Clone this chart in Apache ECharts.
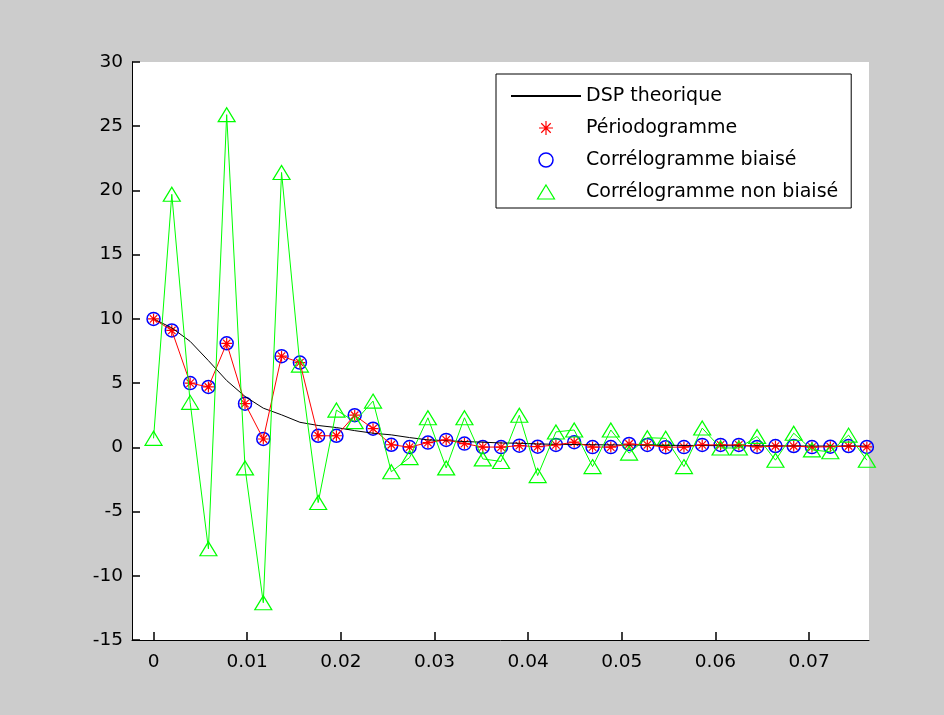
<!DOCTYPE html>
<html>
<head>
<meta charset="utf-8">
<script src="https://cdn.jsdelivr.net/npm/echarts@6/dist/echarts.min.js"></script>
<style>
  html, body { margin: 0; padding: 0; background: #cccccc; }
  #chart { width: 944px; height: 715px; }
</style>
</head>
<body>
<div id="chart"></div>
<script>
// Frequency bins (fs/N steps)
const freq = [0, 0.00195, 0.00391, 0.00586, 0.00781, 0.00977, 0.01172, 0.01367, 0.01563, 0.01758,
  0.01953, 0.02148, 0.02344, 0.02539, 0.02734, 0.02930, 0.03125, 0.03320, 0.03516, 0.03711,
  0.03906, 0.04102, 0.04297, 0.04492, 0.04688, 0.04883, 0.05078, 0.05273, 0.05469, 0.05664,
  0.05859, 0.06055, 0.06250, 0.06445, 0.06641, 0.06836, 0.07031, 0.07227, 0.07422, 0.07617];

// Theoretical power spectral density
const dspTheorique = [10.0, 9.3, 8.25, 6.75, 5.2, 3.96, 3.05, 2.53, 1.95, 1.7,
  1.54, 1.3, 1.1, 0.97, 0.76, 0.58, 0.52, 0.45, 0.4, 0.34,
  0.32, 0.26, 0.24, 0.22, 0.2, 0.19, 0.18, 0.17, 0.16, 0.15,
  0.14, 0.13, 0.12, 0.12, 0.11, 0.11, 0.10, 0.10, 0.10, 0.10];

// Periodogram estimate
const periodogramme = [10.0, 9.1, 5.0, 4.7, 8.1, 3.4, 0.65, 7.1, 6.6, 0.9,
  0.9, 2.5, 1.45, 0.2, 0.02, 0.37, 0.58, 0.29, 0.02, 0.02,
  0.13, 0.05, 0.19, 0.4, 0.02, 0.02, 0.26, 0.19, 0.01, 0.02,
  0.19, 0.19, 0.19, 0.03, 0.1, 0.1, 0.02, 0.05, 0.1, 0.03];

// Biased correlogram estimate
const correloBiaise = [10.0, 9.1, 5.0, 4.7, 8.1, 3.4, 0.65, 7.1, 6.6, 0.9,
  0.9, 2.5, 1.45, 0.2, 0.02, 0.37, 0.58, 0.29, 0.02, 0.02,
  0.13, 0.05, 0.19, 0.4, 0.02, 0.02, 0.26, 0.19, 0.01, 0.02,
  0.19, 0.19, 0.19, 0.03, 0.1, 0.1, 0.02, 0.05, 0.1, 0.03];

// Unbiased correlogram estimate
const correloNonBiaise = [0.7, 19.7, 3.5, -7.9, 25.9, -1.6, -12.1, 21.4, 6.4, -4.3,
  2.9, 2.0, 3.6, -1.9, -0.8, 2.3, -1.6, 2.3, -0.9, -1.1,
  2.5, -2.2, 1.2, 1.35, -1.5, 1.35, -0.45, 0.75, 0.7, -1.5,
  1.5, -0.05, -0.05, 0.85, -1.0, 1.1, -0.2, -0.35, 0.95, -1.0];

// Axis ticks
const xTicks = [0, 0.01, 0.02, 0.03, 0.04, 0.05, 0.06, 0.07];
const xTickLabels = ['0', '0.01', '0.02', '0.03', '0.04', '0.05', '0.06', '0.07'];

const names = ['DSP theorique', 'Périodogramme', 'Corrélogramme biaisé', 'Corrélogramme non biaisé'];

const pairs = (ys) => freq.map((f, i) => [f, ys[i]]);

// asterisk marker: plus and cross overlaid
const starPath = 'path://M5,0L5,10M0,5L10,5M1.6,1.6L8.4,8.4M1.6,8.4L8.4,1.6';
// open upward triangle
const triPath = 'path://M8.5,0L17,14L0,14Z';

const font = 'DejaVu Sans';
const chart = echarts.init(document.getElementById('chart'));

chart.setOption({
  backgroundColor: '#cccccc',
  animation: false,
  grid: {
    left: 132, right: 75, top: 62, bottom: 75,
    show: true, backgroundColor: '#ffffff', borderWidth: 0
  },
  legend: {
    orient: 'vertical',
    left: 496, top: 74,
    padding: [12, 13, 6, 14],
    itemWidth: 70, itemHeight: 14, itemGap: 12,
    backgroundColor: '#ffffff',
    borderColor: '#000000', borderWidth: 1, borderRadius: 0,
    selectedMode: false,
    textStyle: { fontFamily: font, fontSize: 19, color: '#000', lineHeight: 20 },
    data: [
      { name: names[0], itemStyle: { opacity: 0 } },
      { name: names[1], icon: starPath, itemStyle: { borderWidth: 1.2 } },
      { name: names[2], icon: 'circle', itemStyle: { borderWidth: 1.5 } },
      { name: names[3], icon: triPath, itemStyle: { borderWidth: 1.2 } }
    ]
  },
  xAxis: {
    type: 'value',
    zlevel: 1,
    min: -0.0023, max: 0.0764,
    axisLine: { show: true, onZero: false, lineStyle: { color: '#000', width: 1 } },
    axisTick: { show: true, inside: true, length: 8, customValues: xTicks, lineStyle: { color: '#000', width: 1.5 } },
    axisLabel: {
      customValues: xTicks,
      formatter: (v) => xTickLabels[Math.round(v * 100)],
      color: '#000', fontFamily: font, fontSize: 18.5, margin: 13
    },
    splitLine: { show: false }
  },
  yAxis: {
    type: 'value',
    zlevel: 1,
    min: -15, max: 30, interval: 5,
    axisLine: { show: true, onZero: false, lineStyle: { color: '#000', width: 1 } },
    axisTick: { show: true, inside: true, length: 8, lineStyle: { color: '#000', width: 1.5 } },
    axisLabel: { color: '#000', fontFamily: font, fontSize: 18.5, margin: 9 },
    splitLine: { show: false }
  },
  series: [
    {
      name: names[0], type: 'line', data: pairs(dspTheorique),
      symbol: 'none', lineStyle: { color: '#000000', width: 1 },
      itemStyle: { color: '#000000' }, emphasis: { disabled: true }
    },
    {
      name: 'Périodogramme (tracé)', type: 'line', data: pairs(periodogramme),
      symbol: 'none', lineStyle: { color: '#ff0000', width: 1 },
      itemStyle: { color: '#ff0000' }, emphasis: { disabled: true }
    },
    {
      name: names[1], type: 'scatter', data: pairs(periodogramme),
      symbol: starPath, symbolSize: 11,
      itemStyle: { color: 'rgba(0,0,0,0)', borderColor: '#ff0000', borderWidth: 1.2, opacity: 1 },
      emphasis: { disabled: true }
    },
    {
      name: names[2], type: 'scatter', data: pairs(correloBiaise),
      symbol: 'circle', symbolSize: 13,
      itemStyle: { color: 'rgba(0,0,0,0)', borderColor: '#0000ff', borderWidth: 1.5, opacity: 1 },
      emphasis: { disabled: true }
    },
    {
      name: 'Corrélogramme non biaisé (tracé)', type: 'line', data: pairs(correloNonBiaise),
      symbol: 'none', lineStyle: { color: '#00ff00', width: 1 },
      itemStyle: { color: '#00ff00' }, emphasis: { disabled: true }
    },
    {
      name: names[3], type: 'scatter', data: pairs(correloNonBiaise),
      symbol: triPath, symbolSize: [17, 14],
      itemStyle: { color: 'rgba(0,0,0,0)', borderColor: '#00ff00', borderWidth: 1.2, opacity: 1 },
      emphasis: { disabled: true }
    }
  ]
});
</script>
</body>
</html>
